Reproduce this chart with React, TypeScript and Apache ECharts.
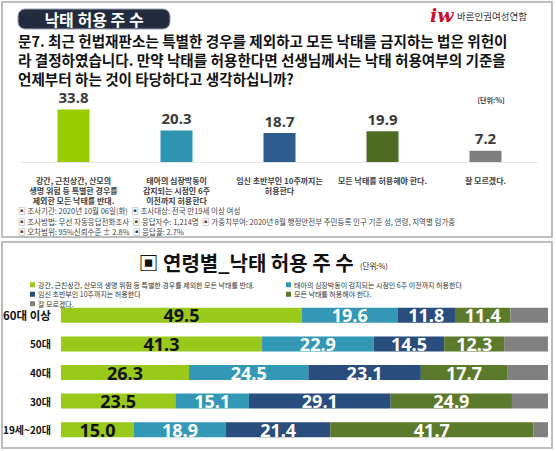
import React, { useEffect, useRef } from "react";
import * as echarts from "echarts";

const FONT = "'Noto Sans CJK KR', 'Noto Sans', sans-serif";

// ---- Top chart data ----
const topCategories = [
  "강간, 근친상간, 산모의\n생명 위험 등 특별한 경우를\n제외한 모든 낙태를 반대.",
  "태아의 심장박동이\n감지되는 시점인 6주\n이전까지 허용한다",
  "임신 초반부인 10주까지는\n허용한다",
  "모든 낙태를 허용해야 한다.",
  "잘 모르겠다.",
];
const topValues = [33.8, 20.3, 18.7, 19.9, 7.2];
const topColors = ["#99CC00", "#2F94B0", "#2D5C8E", "#4E6B22", "#7F7F7F"];

// ---- Bottom chart data ----
const ageGroups = ["60대 이상", "50대", "40대", "30대", "19세~20대"];
const seriesNames = [
  "강간, 근친상간, 산모의 생명 위험 등 특별한 경우를 제외한 모든 낙태를 반대.",
  "태아의 심장박동이 감지되는 시점인 6주 이전까지 허용한다",
  "임신 초반부인 10주까지는 허용한다",
  "모든 낙태를 허용해야 한다.",
  "잘 모르겠다.",
];
const banValues = [49.5, 41.3, 26.3, 23.5, 15.0];
const sixWeekValues = [19.6, 22.9, 24.5, 15.1, 18.9];
const tenWeekValues = [11.8, 14.5, 23.1, 29.1, 21.4];
const allowAllValues = [11.4, 12.3, 17.7, 24.9, 41.7];
const dontKnowValues = [7.7, 9.0, 8.4, 7.4, 3.0];
const stackColors = ["#99C91A", "#3398B6", "#294D7C", "#5B7A2B", "#808080"];
const labelColors = ["#111111", "#ffffff", "#ffffff", "#ffffff", "#ffffff"];

const questionLines = [
  "문7. 최근 헌법재판소는 특별한 경우를 제외하고 모든 낙태를 금지하는 법은 위헌이",
  "라 결정하였습니다. 만약 낙태를 허용한다면 선생님께서는 낙태 허용여부의 기준을",
  "언제부터 하는 것이 타당하다고 생각하십니까?",
];
const footnotes = [
  "▣ 조사기간: 2020년 10월 06일(화)  ▣ 조사대상: 전국 만19세 이상 여성",
  "▣ 조사방법: 무선 자동응답전화조사  ▣ 응답자수: 1,214명  ▣ 가중치부여: 2020년 8월 행정안전부 주민등록 인구 기준 성, 연령, 지역별 림가중",
  "▣ 오차범위: 95%신뢰수준 ± 2.8%  ▣ 응답율: 2.7%",
];

export default function App() {
  const ref = useRef<HTMLDivElement>(null);
  useEffect(() => {
    if (!ref.current) return;
    const chart = echarts.init(ref.current, undefined, { renderer: "svg" });
    const stackData = [banValues, sixWeekValues, tenWeekValues, allowAllValues, dontKnowValues];

    const txt = (x: number, y: number, text: string, opts: any = {}) => ({
      type: "text",
      x,
      y,
      z: 5,
      style: {
        text,
        fontFamily: FONT,
        fontSize: 12,
        fill: "#111",
        textAlign: "left",
        textVerticalAlign: "middle",
        ...opts,
      },
    });

    const graphic: any[] = [
      { type: "rect", z: 0, shape: { x: 2, y: 2, width: 550, height: 235 }, style: { fill: "none", stroke: "#BDBDBD", lineWidth: 2 } },
      { type: "rect", z: 0, shape: { x: 2, y: 242, width: 550, height: 206 }, style: { fill: "none", stroke: "#BDBDBD", lineWidth: 2 } },
      { type: "rect", z: 1, shape: { x: 18, y: 9, width: 152, height: 20, r: 7 }, style: { fill: "#232B3E", stroke: "#9aa0ae", lineWidth: 1 } },
      txt(94, 19, "낙태 허용 주 수", { fill: "#ffffff", fontSize: 16, lineHeight: 18, fontWeight: "bold", textAlign: "center" }),
      txt(430, 15, "iw", { fill: "#C8102E", fontSize: 19, fontWeight: "bold", fontStyle: "italic", fontFamily: "'DejaVu Serif', serif" }),
      txt(457, 16, "바른인권여성연합", { fill: "#333", fontSize: 9.5 }),
      ...questionLines.map((l, i) => txt(18, [40.5, 59.5, 78.5][i], l, { fontSize: 14.6, fontWeight: "bold", lineHeight: 16 })),
      txt(491, 100, "[단위:%]", { fontSize: 7, textAlign: "center", fill: "#333", fontWeight: "bold" }),
      ...footnotes.map((l, i) => txt(18, [210.5, 221, 231][i], l, { fontSize: 7.5, lineHeight: 9, fill: "#444" })),
      txt(246, 262, "▣ 연령별_낙태 허용 주 수", { fontSize: 20, fontWeight: "bold", textAlign: "center" }),
      txt(360, 265, "(단위:%)", { fontSize: 7.5, fill: "#222" }),
    ];

    const legendCommon = {
      orient: "vertical",
      top: 280,
      padding: 0,
      itemWidth: 5,
      itemHeight: 5,
      itemGap: 0,
      icon: "rect",
      textStyle: { fontSize: 7, lineHeight: 9.5, color: "#333", padding: [0, 0, 0, -2] },
    };

    const option: any = {
      animation: false,
      backgroundColor: "#ffffff",
      textStyle: { fontFamily: FONT },
      graphic,
      legend: [
        { ...legendCommon, left: 30, data: [seriesNames[0], seriesNames[2], seriesNames[4]] },
        { ...legendCommon, left: 286, data: [seriesNames[1], seriesNames[3]] },
      ],
      grid: [
        { left: 22, width: 515, top: 100, height: 62 },
        { left: 60, right: 8, top: 301, height: 143 },
      ],
      xAxis: [
        {
          type: "category",
          gridIndex: 0,
          data: topCategories,
          axisLine: { lineStyle: { color: "#E6E6E6" } },
          axisTick: { show: false },
          axisLabel: {
            interval: 0,
            fontSize: 8,
            lineHeight: 10,
            fontWeight: "bold",
            color: "#404040",
            margin: 13,
          },
        },
        { type: "value", gridIndex: 1, min: 0, max: 100, show: false },
      ],
      yAxis: [
        { type: "value", gridIndex: 0, min: 0, max: 40, show: false },
        {
          type: "category",
          gridIndex: 1,
          inverse: true,
          data: ageGroups,
          axisLine: { show: false },
          axisTick: { show: false },
          axisLabel: {
            margin: 10,
            formatter: (v: string) => (v === ageGroups[0] ? `{a|${v}}` : `{b|${v}}`),
            rich: {
              a: { fontSize: 11.5, fontWeight: "bold", color: "#111", fontFamily: FONT },
              b: { fontSize: 10, fontWeight: "bold", color: "#111", fontFamily: FONT },
            },
          },
        },
      ],
      series: [
        {
          type: "bar",
          xAxisIndex: 0,
          yAxisIndex: 0,
          barWidth: 32,
          data: topValues.map((v, i) => ({ value: v, itemStyle: { color: topColors[i] } })),
          label: {
            show: true,
            position: "top",
            distance: 5,
            fontSize: 15,
            lineHeight: 15,
            fontWeight: "bold",
            color: "#3b3b3b",
            fontFamily: "'Noto Sans', sans-serif",
          },
        },
        ...seriesNames.map((name, i) => ({
          type: "bar",
          name,
          stack: "age",
          xAxisIndex: 1,
          yAxisIndex: 1,
          barWidth: 15,
          itemStyle: { color: stackColors[i] },
          data: stackData[i],
          label: {
            show: i < 4,
            position: "inside",
            formatter: (p: any) => Number(p.value).toFixed(1),
            fontSize: 18,
            fontWeight: "bold",
            color: labelColors[i],
            fontFamily: "'Open Sans', sans-serif",
          },
        })),
      ],
    };
    chart.setOption(option);
    return () => chart.dispose();
  }, []);
  return (
    <div
      ref={ref}
      style={{ position: "absolute", left: 0, top: 0, width: 556, height: 451 }}
    />
  );
}
